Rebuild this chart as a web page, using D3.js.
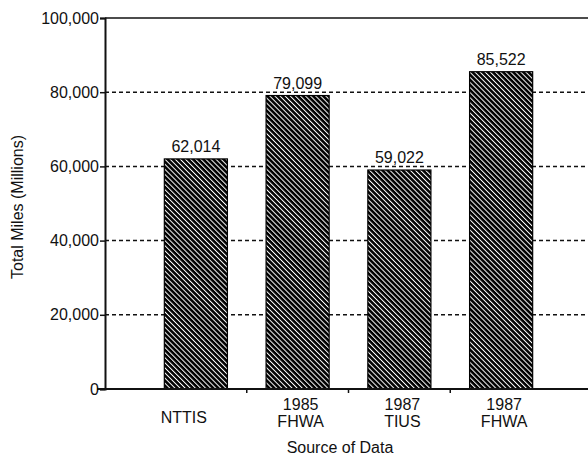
<!DOCTYPE html>
<html>
<head>
<meta charset="utf-8">
<script src="https://cdn.jsdelivr.net/npm/d3@7"></script>
<style>
  html, body { margin: 0; padding: 0; background: #fff; }
  svg { display: block; }
  text { font-family: "Liberation Sans", Arial, Helvetica, sans-serif; fill: #111; }
</style>
</head>
<body>
<svg id="chart" width="588" height="456"></svg>
<script>
const categories = ["NTTIS", "1985\nFHWA", "1987\nTIUS", "1987\nFHWA"];
const values = [62014, 79099, 59022, 85522];
const yTicks = [0, 20000, 40000, 60000, 80000, 100000];
const yTitle = "Total Miles (Millions)";
const xTitle = "Source of Data";

const svg = d3.select("#chart");
const mLeft = 105, mTop = 18, mBottom = 389, mRight = 588;

const y = d3.scaleLinear().domain([0, 100000]).range([mBottom, mTop]);
const x = d3.scaleBand().domain(categories).range([145, 552]).paddingInner(0.38).paddingOuter(0.19);

// hatch pattern
const defs = svg.append("defs");
const pat = defs.append("pattern")
  .attr("id", "hatch").attr("patternUnits", "userSpaceOnUse")
  .attr("width", 3.6).attr("height", 10)
  .attr("patternTransform", "rotate(-45)");
pat.append("rect").attr("width", 3.6).attr("height", 10).attr("fill", "#000");
pat.append("rect").attr("x", 0).attr("width", 1.0).attr("height", 10).attr("fill", "#fff");

// gridlines
svg.append("g").selectAll("line").data(yTicks.filter(t => t > 0 && t < 100000)).join("line")
  .attr("x1", mLeft).attr("x2", mRight)
  .attr("y1", d => y(d)).attr("y2", d => y(d))
  .attr("stroke", "#111").attr("stroke-width", 1.5).attr("stroke-dasharray", "4,3");

// top border
svg.append("line").attr("x1", mLeft).attr("x2", mRight).attr("y1", y(100000)).attr("y2", y(100000))
  .attr("stroke", "#111").attr("stroke-width", 1.5);

// bars
svg.append("g").selectAll("rect").data(values).join("rect")
  .attr("x", (d, i) => x(categories[i]))
  .attr("width", x.bandwidth())
  .attr("y", d => y(d))
  .attr("height", d => y(0) - y(d))
  .attr("fill", "url(#hatch)")
  .attr("stroke", "#000").attr("stroke-width", 1.2);

// value labels
svg.append("g").selectAll("text").data(values).join("text")
  .attr("x", (d, i) => x(categories[i]) + x.bandwidth() / 2)
  .attr("y", d => y(d) - 7)
  .attr("text-anchor", "middle")
  .attr("font-size", 16)
  .text(d => d3.format(",")(d));

// y axis
const yAxis = d3.axisLeft(y).tickValues(yTicks).tickFormat(d3.format(",")).tickSize(5).tickPadding(1);
const ga = svg.append("g").attr("transform", `translate(${mLeft},0)`).call(yAxis);
ga.select(".domain").attr("stroke", "#111").attr("stroke-width", 2);
ga.selectAll(".tick line").attr("stroke", "#111").attr("stroke-width", 1.5);
ga.selectAll(".tick text").attr("font-size", 16).attr("fill", "#111")
  .style("font-family", '"Liberation Sans", Arial, sans-serif');

// x axis baseline
svg.append("line").attr("x1", 97).attr("x2", mRight).attr("y1", mBottom).attr("y2", mBottom)
  .attr("stroke", "#111").attr("stroke-width", 1.8);

// x category ticks (between bars)
const tickPos = categories.slice(1).map(c => x(c) - x.step() * x.paddingInner() / 2);
svg.append("g").selectAll("line").data(tickPos).join("line")
  .attr("x1", d => d).attr("x2", d => d).attr("y1", mBottom).attr("y2", mBottom + 4)
  .attr("stroke", "#111").attr("stroke-width", 1.5);

// x category labels
const xl = svg.append("g").selectAll("text").data(categories).join("text")
  .attr("text-anchor", "middle").attr("font-size", 16)
  .attr("x", c => x(c) + x.bandwidth() / 2 + (c === "NTTIS" ? -12 : 3));
xl.each(function(c) {
  const lines = c.split("\n");
  const t = d3.select(this);
  if (lines.length === 1) {
    t.attr("y", 423).text(lines[0]);
  } else {
    lines.forEach((l, i) => t.append("tspan").attr("x", t.attr("x")).attr("y", 410 + i * 16.5).text(l));
  }
});

// axis titles
svg.append("text").attr("x", 340).attr("y", 453).attr("text-anchor", "middle")
  .attr("font-size", 16).text(xTitle);
svg.append("text").attr("transform", "translate(23,207) rotate(-90)").attr("text-anchor", "middle")
  .attr("font-size", 16).text(yTitle);
</script>
</body>
</html>
